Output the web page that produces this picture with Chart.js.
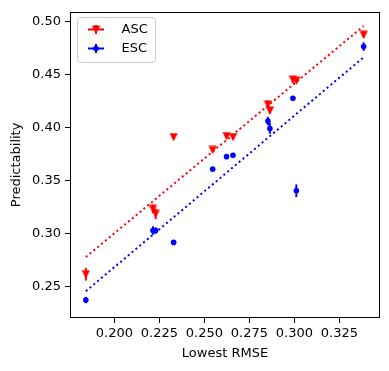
<!DOCTYPE html>
<html><head><meta charset="utf-8">
<script src="https://cdn.jsdelivr.net/npm/chart.js@4/dist/chart.umd.min.js"></script>
<style>html,body{margin:0;padding:0;background:#fff}#wrap{width:389px;height:371px}</style>
</head><body><div id="wrap"><canvas id="c" width="389" height="371"></canvas></div>
<script>
// ---- data ----
const rmse       = [0.1841, 0.2214, 0.2229, 0.2329, 0.2546, 0.2623, 0.2659, 0.2853, 0.2864, 0.2992, 0.3011, 0.3385];
const ascValues  = [0.2619, 0.3235, 0.3188, 0.3913, 0.3791, 0.3922, 0.3912, 0.4219, 0.4163, 0.4453, 0.4444, 0.4878];
const ascErr     = [0.0060, 0.0040, 0.0050, 0.0020, 0.0020, 0.0020, 0.0020, 0.0040, 0.0030, 0.0030, 0.0020, 0.0030];
const escValues  = [0.2375, 0.3031, 0.3031, 0.2919, 0.3610, 0.3728, 0.3741, 0.4063, 0.3994, 0.4278, 0.3406, 0.4766];
const escErr     = [0.0030, 0.0040, 0.0030, 0.0020, 0.0020, 0.0020, 0.0020, 0.0040, 0.0050, 0.0020, 0.0060, 0.0040];
const fitX       = [0.1841, 0.3385];
const ascFit     = [0.2781, 0.4960];
const escFit     = [0.2459, 0.4665];
const xTicks     = [0.200, 0.225, 0.250, 0.275, 0.300, 0.325];
const xTickLabels= ['0.200', '0.225', '0.250', '0.275', '0.300', '0.325'];
const yTicks     = [0.25, 0.30, 0.35, 0.40, 0.45, 0.50];
const yTickLabels= ['0.25', '0.30', '0.35', '0.40', '0.45', '0.50'];
const seriesNames= ['ASC', 'ESC'];
const xTitle = 'Lowest RMSE';
const yTitle = 'Predictability';

const RED = '#ff0000', BLUE = '#0000ff';
const FONT = '"DejaVu Sans", sans-serif';

function triDown(color, w, h) {
  const c = document.createElement('canvas');
  c.width = w; c.height = h;
  const g = c.getContext('2d');
  g.fillStyle = color;
  g.beginPath();
  g.moveTo(0.3, 0.5); g.lineTo(w - 0.3, 0.5); g.lineTo(w / 2, h - 0.3); g.closePath();
  g.fill();
  return c;
}
const triRed = triDown(RED, 9, 9);

const pts = (xs, ys) => xs.map((x, i) => ({x: x, y: ys[i]}));

const errorBars = {
  id: 'errorBars',
  beforeDatasetDraw(chart, args) {
    const ds = chart.data.datasets[args.index];
    if (!ds.yErr) return;
    const xs = chart.scales.x, ys = chart.scales.y, ctx = chart.ctx;
    ctx.save();
    ctx.strokeStyle = ds.errColor;
    ctx.lineWidth = 2;
    ds.data.forEach((p, i) => {
      const px = xs.getPixelForValue(p.x);
      ctx.beginPath();
      ctx.moveTo(px, ys.getPixelForValue(p.y - ds.yErr[i]));
      ctx.lineTo(px, ys.getPixelForValue(p.y + ds.yErr[i]));
      ctx.stroke();
    });
    ctx.restore();
  }
};

const frameAndLegend = {
  id: 'frameAndLegend',
  afterDraw(chart) {
    const {ctx, chartArea: a} = chart;
    ctx.save();
    ctx.strokeStyle = '#000';
    ctx.lineWidth = 1;
    ctx.strokeRect(Math.round(a.left) + 0.5, Math.round(a.top) + 0.5,
                   Math.round(a.right - a.left) - 1, Math.round(a.bottom - a.top) - 1);
    // legend box
    const bx = 77.5, by = 17.5, bw = 78, bh = 45, r = 3;
    ctx.beginPath();
    ctx.moveTo(bx + r, by); ctx.lineTo(bx + bw - r, by); ctx.arcTo(bx + bw, by, bx + bw, by + r, r);
    ctx.lineTo(bx + bw, by + bh - r); ctx.arcTo(bx + bw, by + bh, bx + bw - r, by + bh, r);
    ctx.lineTo(bx + r, by + bh); ctx.arcTo(bx, by + bh, bx, by + bh - r, r);
    ctx.lineTo(bx, by + r); ctx.arcTo(bx, by, bx + r, by, r); ctx.closePath();
    ctx.fillStyle = 'rgba(255,255,255,0.8)';
    ctx.fill();
    ctx.strokeStyle = '#cccccc';
    ctx.stroke();
    const rows = [{y: 29.5, c: RED, tri: true}, {y: 48.5, c: BLUE, tri: false}];
    rows.forEach((row, i) => {
      const cx = 96;
      ctx.strokeStyle = row.c; ctx.lineWidth = 2;
      ctx.beginPath();
      ctx.moveTo(cx - 8, row.y); ctx.lineTo(cx + 8, row.y);
      ctx.moveTo(cx, row.y - 4.5); ctx.lineTo(cx, row.y + 4.5);
      ctx.stroke();
      if (row.tri) {
        ctx.drawImage(triRed, cx - 4.5, row.y - 4.5);
      } else {
        ctx.fillStyle = row.c;
        ctx.beginPath(); ctx.arc(cx, row.y, 2.8, 0, Math.PI * 2); ctx.fill();
      }
      ctx.fillStyle = '#000';
      ctx.font = '13px ' + FONT;
      ctx.textBaseline = 'middle';
      ctx.textAlign = 'left';
      ctx.fillText(seriesNames[i], 121.5, row.y);
    });
    ctx.restore();
  }
};

new Chart(document.getElementById('c'), {
  type: 'scatter',
  data: {
    datasets: [
      {label: seriesNames[0], data: pts(rmse, ascValues), yErr: ascErr, errColor: RED,
       pointStyle: triRed, pointRadius: 4.5, backgroundColor: RED, borderColor: RED, borderWidth: 0},
      {label: seriesNames[1], data: pts(rmse, escValues), yErr: escErr, errColor: BLUE,
       pointStyle: 'circle', pointRadius: 2.8, backgroundColor: BLUE, borderColor: BLUE, borderWidth: 0},
      {type: 'line', label: 'ascFit', data: pts(fitX, ascFit), borderColor: RED, borderWidth: 2,
       borderDash: [2, 3], pointRadius: 0, fill: false},
      {type: 'line', label: 'escFit', data: pts(fitX, escFit), borderColor: BLUE, borderWidth: 2,
       borderDash: [2, 3], pointRadius: 0, fill: false}
    ]
  },
  options: {
    responsive: false,
    animation: false,
    devicePixelRatio: 1,
    layout: {padding: {top: 10, right: 9, left: 0, bottom: 0}},
    plugins: {legend: {display: false}, tooltip: {enabled: false}},
    scales: {
      x: {
        type: 'linear', min: 0.1753, max: 0.3476,
        afterBuildTicks: s => { s.ticks = xTicks.map(v => ({value: v})); },
        afterFit: s => { s.height = 53; },
        border: {display: false},
        grid: {drawOnChartArea: false, drawTicks: true, tickLength: 5, tickColor: '#000', tickWidth: 1},
        ticks: {color: '#000', font: {family: FONT, size: 13}, padding: 3, maxRotation: 0,
                callback: (v) => xTickLabels[xTicks.findIndex(t => Math.abs(t - v) < 1e-9)]},
        title: {display: true, text: xTitle, color: '#000', font: {family: FONT, size: 13},
                padding: {top: 0, bottom: 10}}
      },
      y: {
        type: 'linear', min: 0.2206, max: 0.5094,
        afterBuildTicks: s => { s.ticks = yTicks.map(v => ({value: v})); },
        afterFit: s => { s.width = 70; },
        border: {display: false},
        grid: {drawOnChartArea: false, drawTicks: true, tickLength: 5, tickColor: '#000', tickWidth: 1},
        ticks: {color: '#000', font: {family: FONT, size: 13}, padding: 4,
                callback: (v) => yTickLabels[yTicks.findIndex(t => Math.abs(t - v) < 1e-9)]},
        title: {display: true, text: yTitle, color: '#000', font: {family: FONT, size: 13},
                padding: {top: 9, bottom: 9}}
      }
    }
  },
  plugins: [errorBars, frameAndLegend]
});
</script>
</body></html>
